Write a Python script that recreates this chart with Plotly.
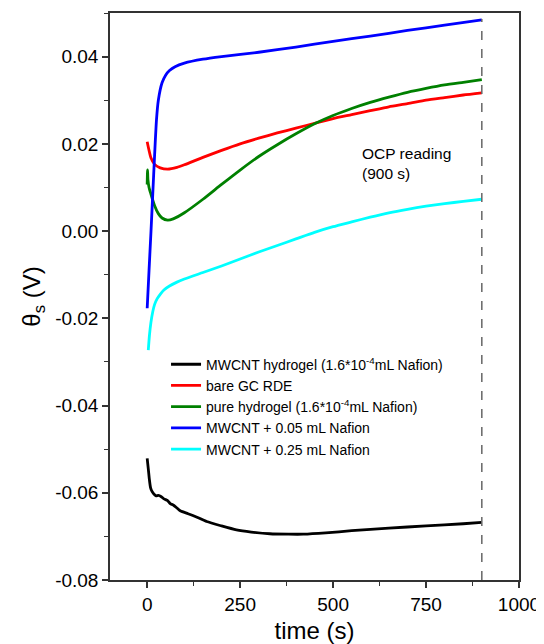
import plotly.graph_objects as go

# ---- data ----
t_black = [0, 3, 6, 9, 13, 18, 24, 30, 38, 45, 55, 62, 70, 80, 90, 110, 134, 160, 200, 240, 280, 330, 380, 420, 480, 550, 650, 750, 850, 900]
v_black = [-0.0521, -0.0545, -0.0570, -0.0588, -0.0597, -0.0603, -0.0607, -0.0606, -0.0609, -0.0614, -0.0618, -0.0625, -0.0628, -0.0635, -0.0642, -0.0648, -0.0656, -0.0666, -0.0676, -0.0685, -0.0690, -0.0694, -0.0695, -0.0695, -0.0692, -0.0687, -0.0681, -0.0676, -0.0671, -0.0668]

t_red = [0, 5, 10, 20, 35, 55, 80, 100, 150, 200, 250, 300, 350, 400, 450, 500, 550, 600, 650, 700, 750, 800, 850, 900]
v_red = [0.0205, 0.0185, 0.0168, 0.0153, 0.0145, 0.0142, 0.0146, 0.0152, 0.0169, 0.0185, 0.0200, 0.0213, 0.0225, 0.0236, 0.0247, 0.0258, 0.0267, 0.0276, 0.0285, 0.0292, 0.0300, 0.0306, 0.0312, 0.0317]

t_green = [0, 1, 2, 5, 10, 20, 30, 40, 55, 70, 100, 150, 200, 250, 300, 350, 400, 450, 500, 550, 600, 650, 700, 750, 800, 850, 900]
v_green = [0.0107, 0.0140, 0.0118, 0.0100, 0.0085, 0.0058, 0.0040, 0.0030, 0.0025, 0.0028, 0.0042, 0.0073, 0.0107, 0.0140, 0.0171, 0.0198, 0.0223, 0.0246, 0.0265, 0.0281, 0.0295, 0.0307, 0.0318, 0.0327, 0.0335, 0.0341, 0.0347]

t_blue = [0, 5, 10, 15, 20, 25, 30, 40, 50, 60, 75, 100, 150, 200, 300, 400, 500, 600, 700, 800, 900]
v_blue = [-0.0177, -0.0090, -0.0005, 0.0085, 0.0175, 0.0255, 0.0300, 0.0340, 0.0358, 0.0368, 0.0377, 0.0385, 0.0394, 0.0400, 0.0410, 0.0422, 0.0435, 0.0447, 0.0460, 0.0472, 0.0484]

t_cyan = [3, 6, 10, 15, 20, 27, 35, 45, 60, 80, 100, 150, 200, 250, 300, 350, 400, 450, 500, 550, 600, 650, 700, 750, 800, 850, 900]
v_cyan = [-0.0273, -0.0240, -0.0210, -0.0185, -0.0168, -0.0155, -0.0145, -0.0135, -0.0126, -0.0117, -0.0110, -0.0095, -0.0080, -0.0064, -0.0048, -0.0033, -0.0018, -0.0003, 0.0010, 0.0021, 0.0032, 0.0042, 0.0050, 0.0057, 0.0063, 0.0068, 0.0073]

names = [
    "MWCNT hydrogel (1.6*10<sup>-4</sup>mL Nafion)",
    "bare GC RDE",
    "pure hydrogel (1.6*10<sup>-4</sup>mL Nafion)",
    "MWCNT + 0.05 mL Nafion",
    "MWCNT + 0.25 mL Nafion",
]
colors = ["#000000", "#ff0000", "#008000", "#0000ff", "#00ffff"]

x_ticks = [0, 250, 500, 750, 1000]
x_ticktext = ["0", "250", "500", "750", "1000"]
y_ticks = [-0.08, -0.06, -0.04, -0.02, 0.00, 0.02, 0.04]
y_ticktext = ["-0.08", "-0.06", "-0.04", "-0.02", "0.00", "0.02", "0.04"]

ocp_time = 900

series = [(t_black, v_black), (t_red, v_red), (t_green, v_green), (t_blue, v_blue), (t_cyan, v_cyan)]

fig = go.Figure()
for (t, v), n, c in zip(series, names, colors):
    fig.add_trace(go.Scatter(x=t, y=v, mode="lines", name=n,
                             line=dict(color=c, width=2.8, shape="spline", smoothing=0.6)))

fig.add_shape(type="line", x0=ocp_time, x1=ocp_time, y0=-0.08, y1=max(v_blue) + 0.0002,
              xref="x", yref="y", line=dict(color="#666666", width=1.5, dash="dash"))

fig.add_annotation(x=573, y=0.0154, xref="x", yref="y", text="OCP reading<br>(900 s)",
                   showarrow=False, xanchor="left", yanchor="middle", align="left",
                   font=dict(size=15.5, color="#000000"))

axis_common = dict(showline=True, linecolor="#333333", linewidth=1.5, mirror=True,
                   ticks="outside", ticklen=6, tickwidth=1.5, tickcolor="#333333",
                   showgrid=False, zeroline=False,
                   tickfont=dict(size=19, color="#000000"),
                   minor=dict(ticks="outside", ticklen=4, tickwidth=1.2, tickcolor="#333333"))

fig.update_xaxes(range=[-100, 1000], tickvals=x_ticks, ticktext=x_ticktext,
                 minor_dtick=125, minor_tick0=0,
                 title=dict(text="time (s)", font=dict(size=24, color="#000000"), standoff=10),
                 **axis_common)
fig.update_yaxes(range=[-0.08, 0.05], tickvals=y_ticks, ticktext=y_ticktext,
                 minor_dtick=0.01, minor_tick0=0,
                 title=dict(text="θ<sub>s</sub> (V)", font=dict(size=24, color="#000000"), standoff=8),
                 **axis_common)

fig.update_layout(
    width=536, height=636,
    margin=dict(l=102, r=25, t=5, b=64, autoexpand=False),
    paper_bgcolor="white", plot_bgcolor="white",
    font=dict(family="Liberation Sans, Arial, sans-serif", color="#000000"),
    showlegend=True,
    legend=dict(x=0.137, y=0.408, xanchor="left", yanchor="top", bgcolor="rgba(0,0,0,0)",
                font=dict(size=14, color="#000000"), tracegroupgap=0, itemwidth=30),
)

fig.write_html("out.html")
